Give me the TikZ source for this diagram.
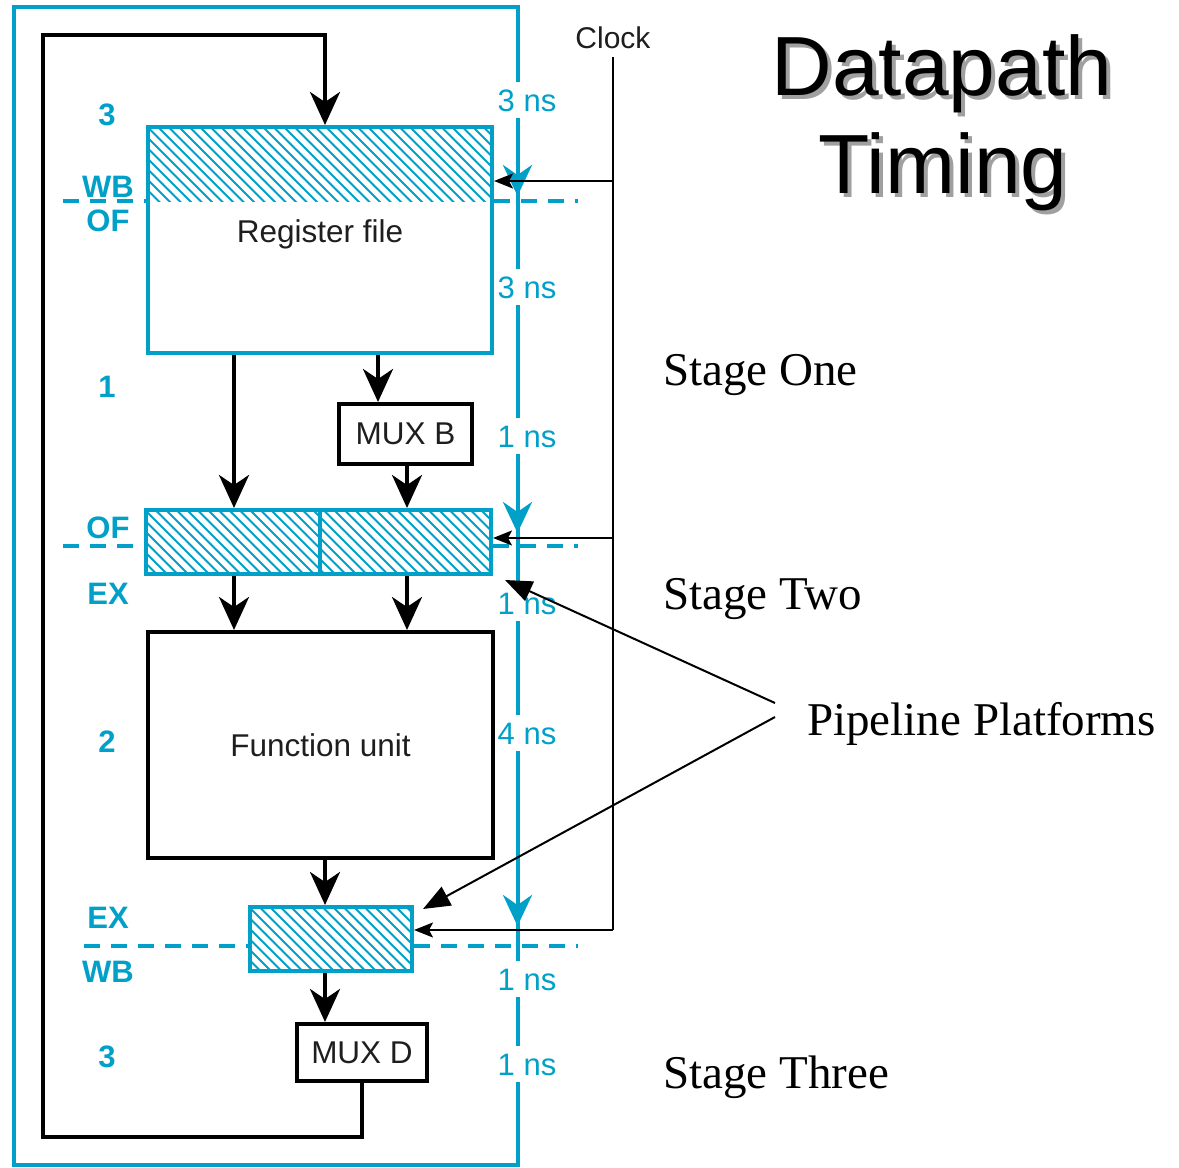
\documentclass[tikz,border=0pt]{standalone}
\usepackage{fontspec}
\setmainfont{Liberation Serif}
\newfontfamily\sansfam{Liberation Sans}
\usetikzlibrary{arrows.meta}
\definecolor{stagecyan}{RGB}{0,160,200}
\definecolor{inktext}{RGB}{30,30,30}
\definecolor{shadowgray}{RGB}{160,160,160}

% diagonal cyan hatching inside the rectangle (#1,#2)-(#3,#4)
\newcommand\hatchfill[4]{%
  \begin{scope}
    \clip (#1,#2) rectangle (#3,#4);
    \foreach \k in {0,10.5,...,520}
      \draw[hatch] ({#1-(#4-#2)+\k},#2) -- ++({#4-#2+12},{#4-#2+12});
  \end{scope}}

\begin{document}
\begin{tikzpicture}[x=1pt,y=-1pt,
  cyanbox/.style={draw=stagecyan,line width=4pt,inner sep=0pt,rectangle},
  blackbox/.style={draw=black,line width=4pt,inner sep=0pt,rectangle,
    text=inktext,font=\sansfam\fontsize{31.5}{33}\selectfont},
  boxtext/.style={text=inktext,font=\sansfam\fontsize{31.5}{33}\selectfont,inner sep=0pt},
  clocktext/.style={text=inktext,font=\sansfam\fontsize{30}{32}\selectfont,inner sep=0pt},
  hatch/.style={draw=stagecyan,line width=1.8pt},
  flow/.style={draw=black,line width=3.8pt,line join=miter,
    -{Stealth[length=33pt,width=30pt,inset=10pt]}},
  tick/.style={draw=stagecyan,line width=4pt,
    -{Stealth[length=31pt,width=29pt,inset=10pt]}},
  clkline/.style={draw=black,line width=2.2pt},
  clkarrow/.style={clkline,-{Stealth[length=19pt,width=15pt,inset=4pt]}},
  pointer/.style={draw=black,line width=2pt,-{Triangle[length=27pt,width=21pt]}},
  boundary/.style={draw=stagecyan,line width=4pt,dash pattern=on 16pt off 11pt},
  stagelbl/.style={text=stagecyan,font=\sansfam\bfseries\fontsize{31}{33}\selectfont,inner sep=0pt},
  nslbl/.style={text=stagecyan,fill=white,font=\sansfam\fontsize{31}{33}\selectfont,
    text height=22pt,text depth=0pt,inner xsep=1pt,inner ysep=7pt},
  stagetext/.style={font=\fontsize{47}{51}\selectfont,anchor=base west,inner sep=0pt},
  titletext/.style={font=\sansfam\fontsize{84}{90}\selectfont,anchor=base,inner sep=0pt}]
\useasboundingbox (0,0) rectangle (1179,1168);

% outer frame; its right side is the timing line
\draw[draw=stagecyan,line width=4pt] (14,7) rectangle (517.5,1165);

% timing labels on the right side
\node[nslbl] (ns1) at (527,100)  {3 ns};
\node[nslbl] (ns2) at (527,287)  {3 ns};
\node[nslbl] (ns3) at (527,436)  {1 ns};
\node[nslbl] (ns4) at (527,603)  {1 ns};
\node[nslbl] (ns5) at (527,733)  {4 ns};
\node[nslbl] (ns6) at (527,979)  {1 ns};
\node[nslbl] (ns7) at (527,1064) {1 ns};

% clock edges on the timing line
\coordinate (t1a) at (517.5,150); \coordinate (t1b) at (517.5,196);
\coordinate (t2a) at (517.5,495); \coordinate (t2b) at (517.5,533);
\coordinate (t3a) at (517.5,880); \coordinate (t3b) at (517.5,926);
\draw[tick] (t1a) -- (t1b);
\draw[tick] (t2a) -- (t2b);
\draw[tick] (t3a) -- (t3b);

% stage boundaries
\draw[boundary] (63,201) -- (148,201);
\draw[boundary] (494,201) -- (578,201);
\draw[boundary] (63,546) -- (146,546);
\draw[boundary] (493,546) -- (578,546);
\draw[boundary] (84,946) -- (250,946);
\draw[boundary] (414,946) -- (578,946);

% hatched register areas
\hatchfill{148}{127}{492}{201}
\hatchfill{146}{510}{491}{574}
\hatchfill{250}{907}{412}{971}

% blocks
\node[cyanbox,minimum width=344,minimum height=226] (rf) at (320,240) {};
\node[boxtext] (rflbl) at (320,234) {Register file};
\node[cyanbox,minimum width=345,minimum height=64] (ofex) at (318.5,542) {};
\node[blackbox,minimum width=345,minimum height=226] (fu) at (320.5,745) {Function unit};
\node[cyanbox,minimum width=162,minimum height=64] (exwb) at (331,939) {};
\node[blackbox,minimum width=133,minimum height=60] (muxb) at (405.5,434) {MUX B};
\node[blackbox,minimum width=130,minimum height=57] (muxd) at (362,1052.5) {MUX D};

\coordinate (xd) at (320,0);
\draw[draw=stagecyan,line width=3.5pt] (ofex.north -| xd) -- (ofex.south -| xd);

% stage and phase labels on the left
\node[stagelbl] (s3a) at (107,115)  {3};
\node[stagelbl] (wb1) at (108,187)  {WB};
\node[stagelbl] (of1) at (108,221)  {OF};
\node[stagelbl] (s1)  at (107,387)  {1};
\node[stagelbl] (of2) at (108,528)  {OF};
\node[stagelbl] (ex1) at (108,594)  {EX};
\node[stagelbl] (s2)  at (107,742)  {2};
\node[stagelbl] (ex2) at (108,918)  {EX};
\node[stagelbl] (wb2) at (108,972)  {WB};
\node[stagelbl] (s3b) at (107,1057) {3};

% data flow
\coordinate (xl) at (234,0);
\coordinate (xb) at (378,0);
\coordinate (xr) at (407,0);
\coordinate (xm) at (325,0);
\coordinate (lb) at (43,1137);
\coordinate (lt) at (43,35);
\draw[flow] (rf.south -| xl) -- (ofex.north -| xl);
\draw[flow] (rf.south -| xb) -- (muxb.north -| xb);
\draw[flow] (muxb.south -| xr) -- (ofex.north -| xr);
\draw[flow] (ofex.south -| xl) -- (fu.north -| xl);
\draw[flow] (ofex.south -| xr) -- (fu.north -| xr);
\draw[flow] (fu.south -| xm) -- (exwb.north -| xm);
\draw[flow] (exwb.south -| xm) -- (muxd.north -| xm);
\draw[flow] (muxd.south) -- (muxd.south |- lb) -- (lb) -- (lt) -- (lt -| xm) -- (rf.north -| xm);

% clock distribution
\node[clocktext] (clk) at (613,38) {Clock};
\coordinate (c1) at (613,181);
\coordinate (c2) at (613,538);
\coordinate (c3) at (613,930);
\coordinate (ctop) at (613,57);
\draw[clkline] (ctop) -- (c3);
\draw[clkarrow] (c1) -- (rf.east |- c1);
\draw[clkarrow] (c2) -- (ofex.east |- c2);
\draw[clkarrow] (c3) -- (exwb.east |- c3);

% title with drop shadow
\node[titletext,text=shadowgray] (t1s) at (946,99)  {Datapath};
\node[titletext]                 (t1)  at (942,95)  {Datapath};
\node[titletext,text=shadowgray] (t2s) at (947,197) {Timing};
\node[titletext]                 (t2)  at (943,193) {Timing};

% stage captions
\node[stagetext] (st1) at (663,385)  {Stage One};
\node[stagetext] (st2) at (663,609)  {Stage Two};
\node[stagetext] (st3) at (663,1088) {Stage Three};
\node[stagetext] (pp)  at (807,735)  {Pipeline Platforms};

\coordinate (pp1) at (775,703);
\coordinate (pp2) at (775,717);
\draw[pointer] (pp1) -- ([shift={(12,4)}]ofex.south east);
\draw[pointer] (pp2) -- ([shift={(9,4)}]exwb.north east);
\end{tikzpicture}
\end{document}
